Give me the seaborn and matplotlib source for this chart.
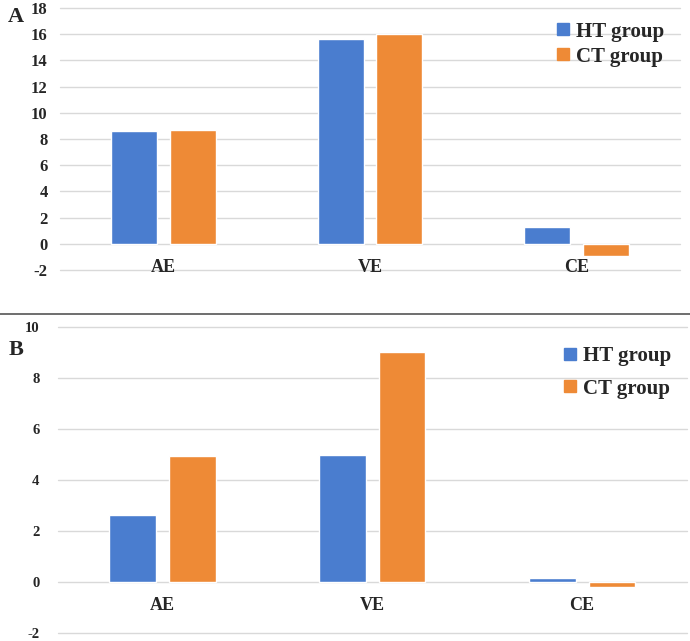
import pandas as pd
import matplotlib.pyplot as plt
import seaborn as sns
from matplotlib.lines import Line2D

# Data
categories = ["AE", "VE", "CE"]
groups = ["HT group", "CT group"]
a_ht = [8.6, 15.6, 1.25]
a_ct = [8.7, 16.0, -0.95]
b_ht = [2.65, 5.0, 0.18]
b_ct = [4.95, 9.05, -0.18]

colors = ["#4A7DCF", "#EE8A36"]

sns.set_style("white")
plt.rcParams["font.family"] = ["Liberation Serif", "DejaVu Serif"]
plt.rcParams["font.weight"] = "bold"


def make_df(ht, ct):
    return pd.DataFrame({
        "cat": categories * 2,
        "group": [groups[0]] * 3 + [groups[1]] * 3,
        "value": ht + ct,
    })


fig = plt.figure(figsize=(6.9, 6.41), dpi=100)
ax_a = fig.add_axes([60 / 690, 1 - 270 / 641, 620 / 690, 262 / 641])
ax_b = fig.add_axes([57.5 / 690, 1 - 633.3 / 641, 629.5 / 690, 306 / 641])

panels = [
    (ax_a, make_df(a_ht, a_ct), (-2, 18), range(-2, 19, 2), "A", (8, 17), (1.005, 1.02), 9, 0.25, 12),
    (ax_b, make_df(b_ht, b_ct), (-2, 10), range(-2, 11, 2), "B", (9, 350), (1.005, 1.0), 13, 0.6, 10.5),
]

for ax, df, ylim, ticks, letter, lpos, legpos, pad, lspace, tsize in panels:
    ax.set_axisbelow(True)
    ax.yaxis.grid(True, color="#D9D9D9", linewidth=1)
    sns.barplot(data=df, x="cat", y="value", hue="group", palette=colors,
                width=0.57, gap=0.22, ax=ax, saturation=1, legend=False)
    ax.set_ylim(*ylim)
    ax.set_xlim(-0.5, 2.5)
    ax.set_yticks(list(ticks))
    ax.set_yticklabels([str(t) for t in ticks], fontsize=tsize, fontweight="bold")
    ax.tick_params(axis="y", length=0, pad=pad)
    for gl in ax.get_ygridlines():
        gl.set_clip_on(False)
    ax.set_xticks([])
    ax.set_xlabel("")
    ax.set_ylabel("")
    for s in ax.spines.values():
        s.set_visible(False)
    for i, c in enumerate(categories):
        ax.annotate(c, xy=(i, 0), xytext=(0, -17), textcoords="offset points",
                    ha="center", va="center", fontsize=13, fontweight="bold")
    handles = [Line2D([], [], marker="s", linestyle="", markersize=8,
                      markerfacecolor=col, markeredgecolor=col) for col in colors]
    ax.legend(handles, groups, loc="upper right", bbox_to_anchor=legpos,
              frameon=False, handlelength=0.8, handletextpad=0.25, labelspacing=lspace,
              prop={"size": 15, "weight": "bold"})
    fig.text(lpos[0] / 690, 1 - lpos[1] / 641, letter, fontsize=16,
             fontweight="bold", ha="left", va="center")

# separator between the two panels
fig.add_artist(Line2D([0, 1], [1 - 313.5 / 641] * 2, color="#555555", linewidth=1.2))

fig.savefig("out.png", dpi=100)
